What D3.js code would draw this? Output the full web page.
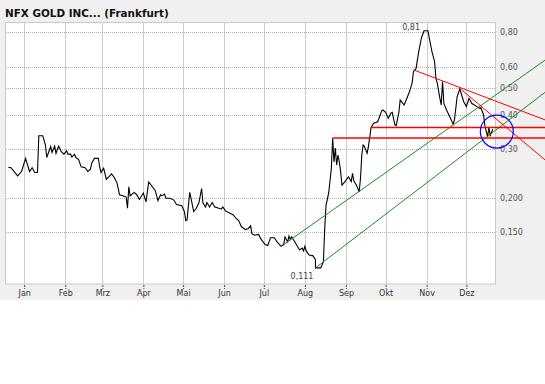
<!DOCTYPE html>
<html><head><meta charset="utf-8">
<script src="https://cdn.jsdelivr.net/npm/d3@7"></script>
<style>
html,body{margin:0;padding:0;background:#fff;}
svg{display:block;}
text{font-family:"DejaVu Sans",Verdana,sans-serif;}
</style></head>
<body>
<script>
const title = "NFX GOLD INC... (Frankfurt)";
const months = ["Jan","Feb","Mrz","Apr","Mai","Jun","Jul","Aug","Sep","Okt","Nov","Dez"];
const yTicks = [0.80,0.60,0.50,0.40,0.30,0.200,0.150];
const yTickLabels = ["0,80","0,60","0,50","0,40","0,30","0,200","0,150"];
// day offsets from 1 Jan 2010
const days = [-12,-10,-5,-2,1,4,6,8,10,11,14,16,17,20,21,23,24,26,28,30,32,33,35,36,38,39,41,43,46,48,50,51,53,56,57,58,60,62,66,68,70,72,75,77,78,79,80,83,85,87,90,92,94,96,99,101,103,104,106,107,110,113,115,119,121,122,123,125,126,128,130,132,134,135,137,138,140,142,144,147,149,150,152,155,158,160,162,164,167,169,171,172,174,177,179,182,184,186,189,191,194,196,197,199,200,201,202,204,206,208,210,211,212,213,215,217,218,220,220,222,224,226,227,228,230,232,233,234,235,236,237,238,239,240,242,244,245,247,248,249,251,253,254,255,256,257,259,260,262,264,267,268,270,271,273,275,277,278,280,281,283,284,286,287,288,291,293,294,296,298,300,302,305,306,308,310,311,312,314,315,316,317,319,322,324,325,327,329,330,332,334,336,338,340,342,344,345,347,348,350,351,352,354];
const prices = [0.258,0.257,0.240,0.249,0.278,0.249,0.257,0.247,0.247,0.336,0.336,0.311,0.280,0.307,0.292,0.308,0.290,0.308,0.294,0.288,0.296,0.288,0.288,0.281,0.288,0.280,0.276,0.259,0.257,0.249,0.254,0.267,0.278,0.278,0.259,0.247,0.256,0.233,0.244,0.237,0.227,0.205,0.203,0.201,0.183,0.219,0.203,0.209,0.205,0.197,0.208,0.193,0.228,0.222,0.212,0.195,0.205,0.203,0.206,0.199,0.199,0.196,0.189,0.187,0.178,0.165,0.166,0.209,0.199,0.178,0.183,0.192,0.216,0.191,0.185,0.192,0.185,0.192,0.185,0.183,0.182,0.185,0.179,0.176,0.173,0.168,0.165,0.157,0.153,0.154,0.158,0.148,0.146,0.147,0.141,0.135,0.134,0.143,0.143,0.138,0.133,0.135,0.144,0.138,0.145,0.141,0.144,0.139,0.134,0.129,0.131,0.128,0.133,0.128,0.124,0.123,0.123,0.119,0.111,0.111,0.111,0.117,0.155,0.188,0.208,0.256,0.330,0.270,0.303,0.263,0.286,0.270,0.249,0.222,0.228,0.235,0.238,0.229,0.245,0.230,0.222,0.210,0.235,0.286,0.311,0.307,0.290,0.307,0.360,0.373,0.378,0.389,0.414,0.417,0.409,0.389,0.406,0.409,0.368,0.366,0.409,0.454,0.441,0.435,0.447,0.486,0.522,0.575,0.591,0.680,0.761,0.810,0.810,0.761,0.680,0.625,0.544,0.522,0.460,0.435,0.529,0.441,0.417,0.389,0.370,0.384,0.466,0.497,0.480,0.447,0.429,0.460,0.441,0.435,0.429,0.423,0.425,0.400,0.365,0.333,0.361,0.337,0.355];
// drawn analysis lines: [startDay, startValue, endDay, endValue]
const redLevels = [[233,0.330,394,0.330],[262,0.360,394,0.360]];
const redTrends = [[294,0.584,394,0.383],[329,0.500,394,0.273]];
const greenTrends = [[196,0.135,394,0.636],[220,0.111,394,0.486]];
const circleMark = [357,0.348];
const highMark = [302,0.81,"0,81"];
const lowMark = [220,0.111,"0,111"];

const W=545,H=384;
const base = new Date(2010,0,1);
const day = d => d3.timeDay.offset(base, d);
const svg = d3.select("body").append("svg").attr("width",W).attr("height",H);
svg.append("rect").attr("width",W).attr("height",H).attr("fill","#ffffff");
svg.append("rect").attr("width",W).attr("height",300).attr("fill","#f0f0f0");

const L=5.5,R=495.5,T=22,B=284;
const x = d3.scaleTime().domain([new Date(2009,11,18), new Date(2010,11,23)]).range([L+0.2,R]);
const y = d3.scaleLog().domain([0.097,0.872]).range([B,T]);

svg.append("rect").attr("x",L).attr("y",T+0.5).attr("width",R-L).attr("height",B-T-0.5)
  .attr("fill","#fff").attr("stroke","#c8c8c8");

const monthDates = months.map((m,i)=>new Date(2010,i,1));
// vertical grid
const gx = svg.append("g").attr("transform",`translate(0,${B})`)
  .call(d3.axisBottom(x).tickValues(monthDates).tickSize(-(B-T)).tickFormat(""));
gx.select(".domain").remove();
gx.selectAll("line").attr("stroke","#cccccc").attr("shape-rendering","crispEdges");
// horizontal dotted grid
const gy = svg.append("g").attr("transform",`translate(${L},0)`)
  .call(d3.axisRight(y).tickValues(yTicks).tickSize(R-L).tickFormat(""));
gy.select(".domain").remove();
gy.selectAll("line").attr("stroke","#b0b0b0").attr("stroke-dasharray","1,1").attr("shape-rendering","crispEdges");

// month axis
const ax = svg.append("g").attr("transform",`translate(0,${B+1})`)
  .call(d3.axisBottom(x).tickValues(monthDates).tickSize(4).tickPadding(1.5).tickFormat((d,i)=>months[i]));
ax.select(".domain").remove();
ax.selectAll("line").attr("stroke","#444").attr("stroke-dasharray","2,1");
ax.selectAll("text").attr("font-size","8px").attr("fill","#333").attr("font-family","DejaVu Sans, sans-serif");
// y labels
const ay = svg.append("g").attr("transform",`translate(${R},0)`)
  .call(d3.axisRight(y).tickValues(yTicks).tickSize(0).tickPadding(4.5).tickFormat((d,i)=>yTickLabels[i]));
ay.select(".domain").remove();
ay.selectAll("text").attr("font-size","8px").attr("fill","#555").attr("font-family","DejaVu Sans, sans-serif");

// price line
const data = days.map((d,i)=>({date:day(d), v:prices[i]}));
svg.append("path").datum(data)
  .attr("d", d3.line().x(d=>x(d.date)).y(d=>y(d.v)))
  .attr("fill","none").attr("stroke","#000").attr("stroke-width",1.1);

// analysis lines
const seg = s => d3.line().x(p=>x(day(p[0]))).y(p=>y(p[1]))([[s[0],s[1]],[s[2],s[3]]]);
greenTrends.forEach(s=>svg.append("path").attr("d",seg(s)).attr("stroke","#1a8c1a").attr("stroke-width",1).attr("fill","none"));
redTrends.forEach(s=>svg.append("path").attr("d",seg(s)).attr("stroke","#ff0000").attr("stroke-width",1).attr("fill","none"));
redLevels.forEach(s=>svg.append("path").attr("d",seg(s)).attr("stroke","#ff0000").attr("stroke-width",1.5).attr("fill","none"));
svg.append("circle").attr("cx",x(day(circleMark[0]))).attr("cy",y(circleMark[1])).attr("r",16.5)
  .attr("fill","none").attr("stroke","#0000ff").attr("stroke-width",1.2);

// extreme labels
svg.append("text").attr("x",x(day(highMark[0]))-4).attr("y",y(highMark[1])-1)
  .attr("text-anchor","end").attr("font-size","8px").attr("fill","#444").text(highMark[2]);
svg.append("text").attr("x",x(day(lowMark[0]))-2).attr("y",y(lowMark[1])+11)
  .attr("text-anchor","end").attr("font-size","8px").attr("fill","#444").text(lowMark[2]);

// title
svg.append("text").attr("x",5).attr("y",17).attr("font-size","10.4px").attr("font-weight","bold")
  .attr("fill","#111").text(title);
</script>
</body></html>
